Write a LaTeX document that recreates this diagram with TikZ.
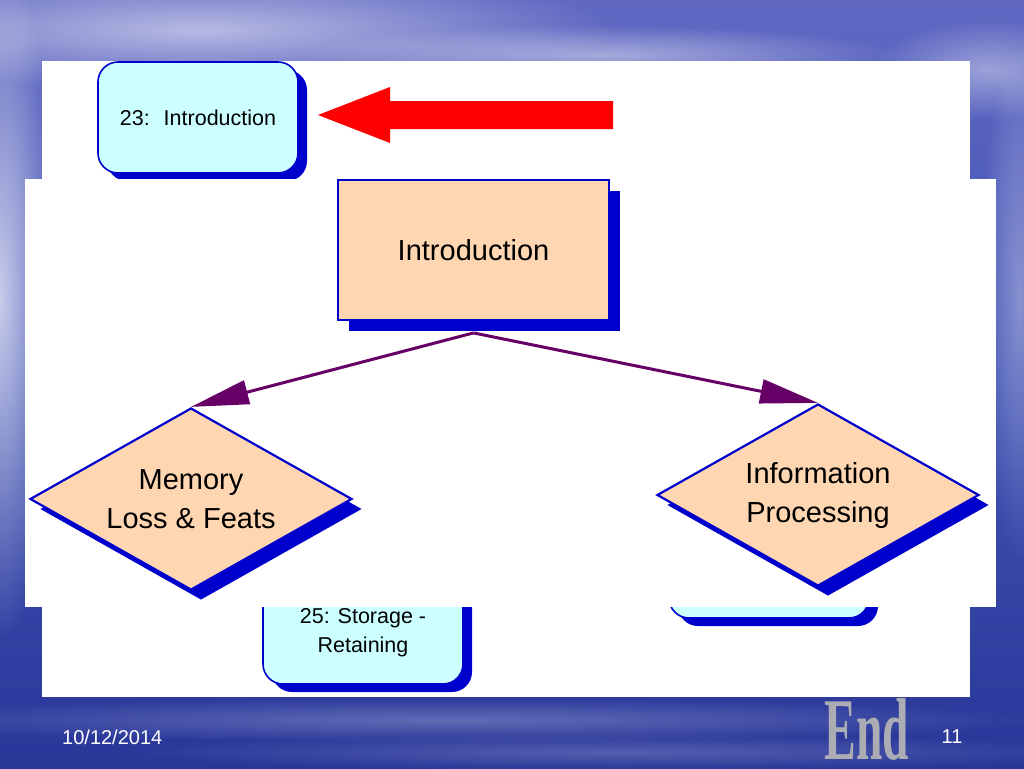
\documentclass[tikz,border=0pt]{standalone}
\usepackage{fontspec}
\usepackage{graphicx}
\setmainfont{Liberation Sans}
\newfontfamily\endfont{Liberation Serif}
\usetikzlibrary{shapes.geometric,shadows,arrows.meta,calc,fadings}
\definecolor{boxblue}{RGB}{0,0,204}
\definecolor{cyanfill}{RGB}{204,255,255}
\definecolor{peach}{RGB}{255,214,178}
\definecolor{conncol}{RGB}{102,0,102}
\definecolor{bgtop}{RGB}{96,104,194}
\definecolor{bgmid}{RGB}{66,84,180}
\definecolor{bgbot}{RGB}{40,54,152}
\definecolor{endgray}{RGB}{172,172,180}
\tikzfading[name=softglow, inner color=transparent!0, outer color=transparent!100]
\begin{document}
\begin{tikzpicture}[x=1pt,y=-1pt,
  cyanbox/.style={draw=boxblue, line width=1.6pt, fill=cyanfill, rounded corners=20pt,
    minimum width=200pt, minimum height=111pt, inner sep=0pt, align=center,
    font=\fontsize{21.5}{29}\selectfont,
    general shadow={fill=boxblue, shadow xshift=9pt, shadow yshift=-8pt}},
  peachbox/.style={draw=boxblue, line width=1.8pt, fill=peach, inner sep=0pt,
    minimum width=271pt, minimum height=140pt, font=\fontsize{29}{38}\selectfont,
    general shadow={fill=boxblue, shadow xshift=11pt, shadow yshift=-11pt}},
  decision/.style={shape=diamond, aspect=1.77, draw=boxblue, line width=2.2pt, fill=peach,
    inner sep=0pt, minimum width=322pt, minimum height=182pt, align=center,
    font=\fontsize{29}{39}\selectfont,
    general shadow={fill=boxblue, shadow xshift=10pt, shadow yshift=-10pt}},
  conn/.style={draw=conncol, line width=3pt, -{Triangle[length=58pt,width=24pt]}},
  whitepanel/.style={fill=white},
  wisp/.style={white, path fading=softglow},
  footer/.style={text=white, font=\fontsize{20}{22}\selectfont, inner sep=0pt}
]
\useasboundingbox (0,0) rectangle (1024,768);
% background
\shade[top color=bgtop, bottom color=bgbot, middle color=bgmid] (0,0) rectangle (1024,768);
\fill[wisp, fill opacity=0.55] (200,30) ellipse (420 and 60);
\fill[wisp, fill opacity=0.45] (600,55) ellipse (300 and 30);
\fill[wisp, fill opacity=0.40] (990,70) ellipse (120 and 50);
\fill[wisp, fill opacity=0.70] (0,300) ellipse (60 and 340);
\fill[wisp, fill opacity=0.35] (1020,300) ellipse (40 and 260);
\fill[wisp, fill opacity=0.25] (450,720) ellipse (600 and 22);
\fill[wisp, fill opacity=0.20] (620,752) ellipse (500 and 18);

% back white panel
\fill[whitepanel] (42,61) rectangle (970,697);

% partly hidden cyan boxes
\node[cyanbox] (intro23) at (198,117.5) {23:~ Introduction};
\node[cyanbox, minimum height=103pt] (stor25) at (363,632.5) {25: Storage -\\Retaining};
\node[cyanbox] (hidbox) at (769,562.5) {};

% red block arrow
\fill[red] (613,101) -- (390,101) -- (390,87) -- (318,115) -- (390,143) -- (390,129) -- (613,129) -- cycle;

% front white panel
\fill[whitepanel] (25,179) rectangle (996,607);

% main diagram
\node[peachbox] (intro) at (473.5,250) {Introduction};
\node[decision] (mem) at (191,499) {Memory\\Loss \& Feats};
\node[decision] (info) at (818,495) {Information\\Processing};
\coordinate (split) at ([yshift=-12pt]intro.south);
\draw[conn] (split) -- (mem.north);
\draw[conn] (split) -- (info.north);

% footer
\node[footer, anchor=west] (date) at (62,737) {10/12/2014};
\node[footer] (pg) at (952,737) {11};
\node[anchor=base, inner sep=0pt, text=endgray, font=\endfont\bfseries\fontsize{88}{88}\selectfont] (endmark) at (867,759) {\scalebox{0.54}[1]{End}};
\end{tikzpicture}
\end{document}
